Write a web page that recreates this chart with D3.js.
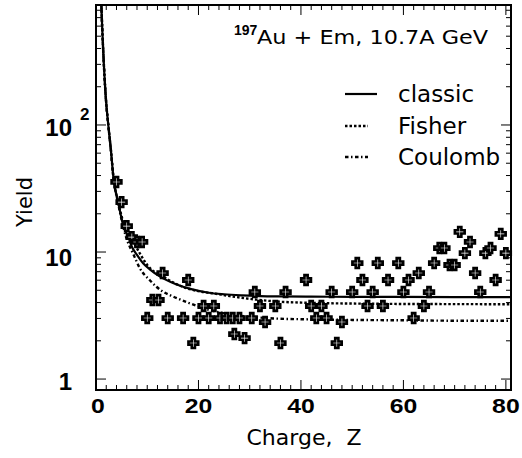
<!DOCTYPE html>
<html>
<head>
<meta charset="utf-8">
<script src="https://cdn.jsdelivr.net/npm/d3@7"></script>
<style>
  body { margin: 0; background: #fff; }
  svg { display: block; }
</style>
</head>
<body>
<svg id="chart" width="522" height="458"></svg>
<script>
// measured points (Z, yield)
const pointZ = [4, 5, 6, 7, 8, 9, 10, 11, 12.2, 13, 14, 17, 18, 19, 20, 21, 22, 23, 24.2, 25.5, 26.7,
    27, 28, 29, 30.4, 31, 32, 33, 35, 36, 37, 41, 42, 43, 44, 45, 46, 47, 48, 50,
    51, 52, 53, 54, 55, 56, 57, 59, 60, 61, 62, 63, 64, 65, 66, 67, 68, 69, 70,
    71, 72, 73, 74, 75, 76, 77, 78, 79, 80];
const pointY = [35.6, 24.7, 16.0, 13.1, 12.0, 12.0, 3.02, 4.19, 4.19, 6.83, 3.02, 3.02, 6.02, 1.92, 3.02, 3.76, 3.02, 3.76, 3.02, 3.02, 3.02,
    2.26, 3.02, 2.10, 3.02, 4.84, 3.76, 2.81, 3.76, 1.92, 4.84, 6.02, 3.76, 3.02, 3.76, 3.02, 4.84, 1.92, 2.81, 4.84,
    8.19, 6.02, 3.76, 4.84, 8.19, 3.76, 6.02, 8.19, 4.84, 6.02, 3.02, 6.83, 3.76, 4.84, 8.19, 10.75, 10.75, 7.9, 7.9,
    14.4, 9.8, 12.0, 6.83, 4.84, 9.8, 10.75, 6.02, 13.9, 9.8];

// fit curves
const classicCurve = [[0.95, 1200], [1.05, 880], [1.4, 390], [1.95, 157], [2.4, 100], [2.9, 64], [3.45, 37],
    [4.25, 25.5], [5.4, 15.8], [6.3, 13.2], [7.0, 11.0], [8.0, 9.5], [9.2, 8.15], [10.5, 7.3], [12.5, 6.4],
    [15.5, 5.6], [18.6, 5.1], [22, 4.78], [25, 4.65], [28.5, 4.56], [32, 4.5], [36, 4.47], [42, 4.45],
    [50, 4.44], [60, 4.43], [70, 4.42], [81, 4.42]];
const fisherCurve = [[0.95, 1200], [1.05, 880], [1.4, 390], [1.95, 157], [2.4, 100], [2.9, 64], [3.45, 37],
    [4.25, 25.5], [5.6, 16.0], [6.8, 13.2], [8.4, 10.0], [10.0, 7.9], [13.4, 6.3], [16.5, 5.4], [19.6, 4.95],
    [23, 4.72], [26.1, 4.5], [31.3, 4.22], [35.2, 4.08], [41.7, 3.98], [50, 3.93], [60, 3.9], [70, 3.89], [81, 3.88]];
const coulombCurve = [[0.95, 1200], [1.05, 880], [1.4, 390], [1.95, 157], [2.4, 100], [2.9, 64], [3.45, 37],
    [4.2, 25.5], [5.85, 13.2], [7.3, 9.6], [8.6, 7.4], [10.5, 6.0], [11.8, 5.33], [13.1, 4.87], [15.1, 4.45],
    [18.3, 3.95], [21.6, 3.55], [24.8, 3.3], [28.1, 3.15], [31.3, 3.06], [34.6, 3.0], [41.7, 2.95], [50, 2.92],
    [60, 2.9], [70, 2.88], [81, 2.88]];

const xTickLabels = [0, 20, 40, 60, 80];
const yTickLabels = [1, 10, 100];
const legendNames = ["classic", "Fisher", "Coulomb"];

const svg = d3.select("#chart");
const plotLeft = 96, plotRight = 511, plotTop = 5, plotBottom = 390;

const x = d3.scaleLinear().domain([0, 81]).range([plotLeft, plotRight]);
const y = d3.scaleLog().domain([0.82, 880]).range([plotBottom, plotTop]);

const xMinor = d3.range(0, 81, 2);
const yMinor = [];
[1, 10, 100].forEach(d => { for (let k = 1; k < 10; k++) if (d * k < 880) yMinor.push(d * k); });

// ticks, all pointing inside
const tickGroup = svg.append("g").attr("stroke", "#000").attr("stroke-width", 1);
[[plotBottom, -1], [plotTop, 1]].forEach(([yy, dir]) => {
    tickGroup.selectAll(null).data(xMinor).enter().append("line")
        .attr("x1", d => x(d)).attr("x2", d => x(d))
        .attr("y1", yy).attr("y2", d => yy + dir * (d % 20 === 0 ? 10 : 5));
});
[[plotLeft, 1], [plotRight, -1]].forEach(([xx, dir]) => {
    tickGroup.selectAll(null).data(yMinor).enter().append("line")
        .attr("y1", d => y(d)).attr("y2", d => y(d))
        .attr("x1", xx).attr("x2", d => xx + dir * (yTickLabels.includes(d) ? 10 : 5));
});

// curves
svg.append("clipPath").attr("id", "plotclip").append("rect")
    .attr("x", plotLeft).attr("y", plotTop).attr("width", plotRight - plotLeft).attr("height", plotBottom - plotTop);

const lineGen = d3.line()
    .x(d => x(d[0]))
    .y(d => y(d[1]))
    .curve(d3.curveMonotoneX);

const curveStyles = [
    { data: classicCurve, dash: null, width: 2.2 },
    { data: fisherCurve, dash: "2.5,2", width: 2.4 },
    { data: coulombCurve, dash: "3.5,2.5,1.5,2.5", width: 2.4 }
];

const curves = svg.append("g").attr("clip-path", "url(#plotclip)");
curveStyles.forEach(c => {
    curves.append("path")
        .attr("d", lineGen(c.data))
        .attr("fill", "none")
        .attr("stroke", "#000")
        .attr("stroke-width", c.width)
        .attr("stroke-dasharray", c.dash);
});

// open cross markers
const s = 4.9, a = 1.6;
const crossPath = `M${-a},${-s}H${a}V${-a}H${s}V${a}H${a}V${s}H${-a}V${a}H${-s}V${-a}H${-a}Z`;
svg.append("g").selectAll("path")
    .data(pointZ.map((z, i) => [z, pointY[i]]))
    .enter().append("path")
    .attr("d", crossPath)
    .attr("transform", d => "translate(" + x(d[0]) + "," + y(d[1]) + ")")
    .attr("fill", "#fff")
    .attr("stroke", "#000")
    .attr("stroke-width", 2.6)
    .attr("stroke-linejoin", "miter");

// frame
svg.append("rect")
    .attr("x", plotLeft).attr("y", plotTop)
    .attr("width", plotRight - plotLeft).attr("height", plotBottom - plotTop)
    .attr("fill", "none").attr("stroke", "#000").attr("stroke-width", 2);

// tick labels
svg.append("g").selectAll("text")
    .data(xTickLabels).enter().append("text")
    .attr("transform", d => "translate(" + (x(d) + (d === 0 ? 2 : 0)) + ",413) scale(1.18,1)")
    .attr("text-anchor", "middle")
    .style("font-family", "Liberation Sans, Arial, sans-serif")
    .style("font-weight", "bold")
    .style("font-size", "21px")
    .text(d => d);

const yLab = svg.append("g")
    .style("font-family", "Liberation Sans, Arial, sans-serif")
    .style("font-weight", "bold");
yLab.selectAll("text")
    .data(yTickLabels).enter().append("text")
    .attr("x", 72)
    .attr("y", d => y(d) + 2 + (d === 10 ? 3 : 0))
    .attr("dy", "0.36em")
    .attr("text-anchor", "end")
    .style("font-size", "24px")
    .text(d => d === 100 ? "10" : d);
yLab.append("text")
    .attr("x", 80).attr("y", y(100) - 5)
    .style("font-size", "17px")
    .text("2");

// axis titles
const titleFont = "DejaVu Sans, sans-serif";
svg.append("text")
    .attr("x", 304).attr("y", 445)
    .attr("text-anchor", "middle")
    .style("font-family", titleFont)
    .style("font-size", "22px")
    .style("white-space", "pre")
    .text("Charge,  Z");

svg.append("text")
    .attr("transform", "translate(32,202) rotate(-90)")
    .attr("text-anchor", "middle")
    .style("font-family", titleFont)
    .style("font-size", "21px")
    .text("Yield");

// reaction label
svg.append("text")
    .attr("x", 234).attr("y", 35)
    .style("font-family", "Liberation Sans, Arial, sans-serif")
    .style("font-weight", "bold")
    .style("font-size", "14px")
    .text("197");
svg.append("text")
    .attr("x", 257).attr("y", 44)
    .attr("textLength", 231)
    .attr("lengthAdjust", "spacingAndGlyphs")
    .style("font-family", titleFont)
    .style("font-size", "20px")
    .text("Au + Em, 10.7A GeV");

// legend
const legendY = [94, 126, 157];
const legendEnd = [377, 368, 368];
const legend = svg.append("g");
curveStyles.forEach((c, i) => {
    legend.append("line")
        .attr("x1", 345).attr("x2", legendEnd[i])
        .attr("y1", legendY[i]).attr("y2", legendY[i])
        .attr("stroke", "#000")
        .attr("stroke-width", c.width)
        .attr("stroke-dasharray", c.dash);
    legend.append("text")
        .attr("x", 398).attr("y", legendY[i])
        .attr("dy", "0.36em")
        .style("font-family", titleFont)
        .style("font-size", "23px")
        .text(legendNames[i]);
});
</script>
</body>
</html>
